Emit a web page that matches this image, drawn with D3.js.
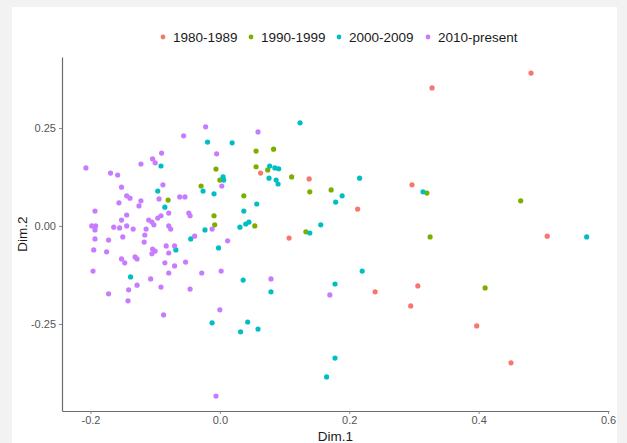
<!DOCTYPE html>
<html>
<head>
<meta charset="utf-8">
<script src="https://cdn.jsdelivr.net/npm/d3@7"></script>
<style>
  html, body { margin: 0; padding: 0; background: #f2f2f2; }
  svg { display: block; }
</style>
</head>
<body>
<svg id="chart" width="627" height="443"></svg>
<script>
// ---- data (Dim.1, Dim.2) ----
const categories = ["1980-1989", "1990-1999", "2000-2009", "2010-present"];
const colors = ["#F8766D", "#7CAE00", "#00BFC4", "#C77CFF"];

const pts1980 = [
  [0.328,0.352],[0.481,0.390],[0.063,0.135],[0.138,0.120],[0.297,0.105],[0.213,0.043],
  [0.107,-0.031],[0.506,-0.026],[0.240,-0.168],[0.306,-0.153],[0.295,-0.204],[0.397,-0.255],
  [0.450,-0.349]
];
const pts1990 = [
  [0.111,0.125],[0.139,0.087],[0.172,0.092],[0.320,0.084],[0.465,0.064],[0.133,-0.015],
  [0.325,-0.028],[0.410,-0.158],[0.056,0.191],[0.083,0.196],[-0.006,0.145],[0.056,0.151],
  [0.074,0.143],[0.000,0.117],[-0.029,0.102],[0.037,0.077],[-0.080,0.066],[-0.009,0.026],
  [-0.008,0.003],[0.054,0.000]
];
const pts2000 = [
  [0.124,0.263],[-0.019,0.214],[0.019,0.212],[-0.091,0.153],[0.077,0.153],[0.085,0.148],
  [0.091,0.146],[0.076,0.122],[0.087,0.117],[0.090,0.107],[0.005,0.125],[0.006,0.117],
  [-0.096,0.089],[-0.085,0.048],[-0.026,0.089],[-0.009,0.082],[0.037,0.038],[0.057,0.056],
  [0.031,-0.003],[0.040,0.005],[0.045,0.010],[-0.023,-0.010],[-0.045,-0.033],[-0.068,-0.061],
  [-0.002,-0.056],[-0.138,-0.130],[0.036,-0.138],[0.079,-0.168],[-0.012,-0.247],[0.043,-0.245],
  [0.032,-0.270],[0.059,-0.263],[0.216,0.122],[0.179,0.061],[0.189,0.077],[0.314,0.087],
  [0.156,0.003],[0.139,-0.018],[0.567,-0.028],[0.220,-0.115],[0.178,-0.148],[0.178,-0.337],
  [0.165,-0.385]
];
const pts2010 = [
  [-0.022,0.253],[-0.056,0.230],[0.059,0.240],[-0.005,0.184],[-0.090,0.186],[-0.104,0.171],
  [-0.100,0.161],[-0.122,0.158],[-0.207,0.148],[-0.169,0.135],[-0.158,0.130],[-0.152,0.099],
  [-0.088,0.105],[0.003,0.102],[-0.144,0.077],[-0.139,0.071],[-0.156,0.059],[-0.122,0.064],
  [-0.125,0.051],[-0.094,0.069],[-0.062,0.074],[-0.054,0.074],[-0.193,0.038],[-0.079,0.033],
  [-0.048,0.033],[-0.046,0.026],[-0.091,0.026],[-0.096,0.020],[-0.110,0.015],[-0.144,0.028],
  [-0.152,0.015],[-0.105,0.010],[-0.102,0.003],[-0.198,0.000],[-0.192,0.000],[-0.164,-0.003],
  [-0.155,-0.005],[-0.144,0.000],[-0.134,-0.008],[-0.114,-0.008],[-0.079,0.000],[-0.076,-0.008],
  [-0.193,-0.010],[-0.012,-0.008],[-0.039,-0.026],[-0.193,-0.033],[-0.172,-0.036],[-0.150,-0.028],
  [-0.116,-0.023],[-0.117,-0.041],[-0.083,-0.051],[-0.070,-0.051],[0.012,-0.038],[-0.195,-0.061],
  [-0.175,-0.066],[-0.104,-0.059],[-0.100,-0.064],[-0.105,-0.071],[-0.079,-0.069],[-0.152,-0.084],
  [-0.147,-0.094],[-0.131,-0.079],[-0.128,-0.084],[-0.085,-0.094],[-0.070,-0.102],[-0.053,-0.092],
  [-0.196,-0.115],[-0.079,-0.120],[-0.028,-0.120],[0.002,-0.115],[-0.107,-0.135],[-0.128,-0.151],
  [-0.091,-0.156],[-0.046,-0.161],[-0.141,-0.163],[-0.172,-0.173],[-0.142,-0.191],[-0.087,-0.227],
  [0.000,-0.214],[0.079,-0.135],[0.170,-0.176],[-0.006,-0.434]
];
const seriesPoints = [pts1980, pts1990, pts2000, pts2010];

const xTicks = [-0.2, 0.0, 0.2, 0.4, 0.6];
const xTickLabels = ["-0.2", "0.0", "0.2", "0.4", "0.6"];
const yTicks = [-0.25, 0.0, 0.25];
const yTickLabels = ["-0.25", "0.00", "0.25"];

// ---- layout ----
const svg = d3.select("#chart");
const FONT = "'Liberation Sans', Arial, sans-serif";

svg.append("rect").attr("x", 12).attr("y", 7).attr("width", 605).attr("height", 436).attr("fill", "#ffffff");

const x = d3.scaleLinear().domain([-0.244, 0.6015]).range([62, 609]);
const y = d3.scaleLinear().domain([-0.472, 0.431]).range([411, 57]);

// axes
const xAxis = d3.axisBottom(x).tickValues(xTicks).tickSize(3).tickSizeOuter(0)
  .tickFormat((d, i) => xTickLabels[i]);
const yAxis = d3.axisLeft(y).tickValues(yTicks).tickSize(3).tickSizeOuter(0)
  .tickFormat((d, i) => yTickLabels[i]);

const gx = svg.append("g").attr("transform", "translate(0,411)").call(xAxis);
const gy = svg.append("g").attr("transform", "translate(62,0)").call(yAxis);

[gx, gy].forEach(g => {
  g.select(".domain").attr("stroke", "#6b6b6b").attr("stroke-width", 1.2);
  g.selectAll(".tick line").attr("stroke", "#8a8a8a");
  g.selectAll(".tick text").attr("fill", "#555555").style("font-family", FONT).style("font-size", "11px");
});
gx.selectAll(".tick text").attr("y", 5).attr("dy", "0.71em");

// axis titles
svg.append("text").attr("x", (62 + 609) / 2).attr("y", 441).attr("text-anchor", "middle")
  .style("font-family", FONT).style("font-size", "13.5px").attr("fill", "#1a1a1a").text("Dim.1");
svg.append("text").attr("transform", `translate(27,${(57 + 411) / 2}) rotate(-90)`).attr("text-anchor", "middle")
  .style("font-family", FONT).style("font-size", "13.5px").attr("fill", "#1a1a1a").text("Dim.2");

// points
seriesPoints.forEach((pts, i) => {
  svg.append("g").selectAll("circle").data(pts).join("circle")
    .attr("cx", d => x(d[0])).attr("cy", d => y(d[1])).attr("r", 2.6)
    .attr("fill", colors[i]);
});

// legend
const legendX = [163, 251, 339, 428];
const lg = svg.append("g");
categories.forEach((c, i) => {
  lg.append("circle").attr("cx", legendX[i]).attr("cy", 37).attr("r", 2.4).attr("fill", colors[i]);
  lg.append("text").attr("x", legendX[i] + 10).attr("y", 37).attr("dy", "0.35em")
    .style("font-family", FONT).style("font-size", "13.5px").attr("fill", "#1a1a1a").text(c);
});
</script>
</body>
</html>
